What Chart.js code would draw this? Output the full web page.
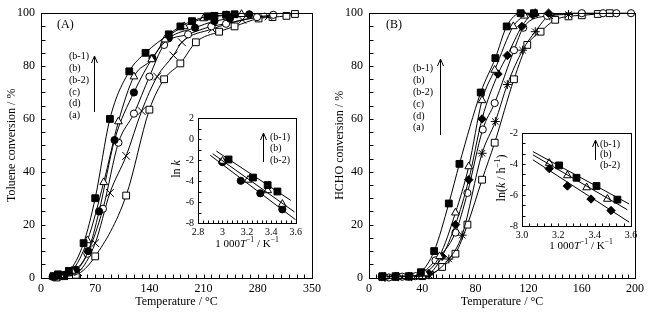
<!DOCTYPE html>
<html lang="en">
<head>
<meta charset="UTF-8">
<title>Toluene and HCHO conversion</title>
<script src="https://cdn.jsdelivr.net/npm/chart.js"></script>
<style>
  body { margin: 0; background: #fff; }
  #wrap { position: relative; width: 649px; height: 318px; overflow: hidden; background: #fff; }
  canvas { position: absolute; }
</style>
</head>
<body>
<div id="wrap">
  <canvas id="mainA" width="330" height="318" style="left:0;top:0"></canvas>
  <canvas id="mainB" width="324" height="318" style="left:325px;top:0"></canvas>
  <canvas id="insetA" width="140" height="145" style="left:165px;top:108px"></canvas>
  <canvas id="insetB" width="155" height="140" style="left:490px;top:123px"></canvas>
</div>

<script>
const seriesLabels = ['(b-1)', '(b)', '(b-2)', '(c)', '(d)', '(a)'];
const insetLabels = ['(b-1)', '(b)', '(b-2)'];

// (A) toluene conversion, [temperature °C, conversion %]
const tolB1 = [[16,0.5],[22,1.2],[36,2.5],[55,13],[70,30],[89,60],[114,78],[135,85],[165,92],[180,95],[195,97],[215,98.8],[224,99],[239,99.4],[250,99.6]];
const tolB  = [[15,0.3],[25,0.8],[40,2.5],[60,14],[81,36],[100,59],[120,76],[143,82.5],[160,90],[185,95],[210,98],[240,99.2],[259,99.6]];
const tolB2 = [[15,0.3],[30,1],[45,3],[61,10],[75,25],[95,52],[120,70],[144,83],[165,90.5],[199,94.5],[224,97],[244,98],[269,99.6]];
const tolC  = [[18,0.2],[30,0.8],[45,2.5],[60,9],[80,26],[100,51],[120,62],[140,76],[159,88],[190,92],[220,95],[239,96],[279,98.5],[300,99.4]];
const tolD  = [[20,0.2],[30,0.5],[48,2],[70,13],[89,32],[110,46],[130,63],[150,76],[171,84],[182,89],[221,94],[260,97.5],[294,98.8]];
const tolA  = [[20,0],[30,0.5],[45,1],[70,8],[110,31],[140,63.5],[159,75],[180,81],[200,89],[230,93],[250,95],[281,98],[299,98.5],[317,99],[328,99.7]];

// (B) HCHO conversion, [temperature °C, conversion %]
const hchoB1 = [[10,0.5],[20,0.5],[30,0.5],[39,2],[49,10],[60,28],[68,43],[84,70],[95,83],[103.5,95],[114,100],[124,100]];
const hchoB  = [[12,0.3],[22,0.3],[32,0.3],[42,1.5],[53,8],[65,24.5],[75,42],[85,67],[94.5,78.5],[108.5,95],[117,99],[125,100]];
const hchoB2 = [[10,0.3],[20,0.5],[30,0.5],[45,1.5],[55,8],[65,20],[75,37],[85,60],[97,77],[104,84],[115,95],[123,99.4],[135,100]];
const hchoC  = [[15,0],[25,0.3],[35,0.5],[50,6.5],[65,17],[74,32],[85.5,56],[94.5,66],[109,86],[116,94.5],[134,99],[160,100],[176,100],[186,100],[197,100]];
const hchoD  = [[12,0],[22,0.3],[32,0.3],[45,1],[60,7],[70,16],[85,47],[95,59],[104,73],[115.5,86],[125,93],[136,99],[150,99.5]];
const hchoA  = [[10,0.2],[20,0.2],[30,0.3],[40,0.5],[46,1],[55,4],[65,9],[74,20],[85,37],[94.5,51],[109,75],[119,88],[129,93],[140,97.5],[150,98.8],[160,99.2],[172,99.7],[181,100]];

// insets: [1000/T, ln k]
const lnkA_b1 = [[3.05,-1.95],[3.25,-3.67],[3.37,-4.39],[3.45,-5.0]];
const lnkA_b  = [[3.0,-2.1],[3.21,-3.9],[3.37,-4.9],[3.49,-6.2]];
const lnkA_b2 = [[3.0,-2.2],[3.15,-3.98],[3.31,-5.17],[3.49,-6.7]];
const fitA_b1 = [[2.95,-1.15],[3.56,-5.85]];
const fitA_b  = [[2.92,-1.4],[3.59,-6.95]];
const fitA_b2 = [[2.9,-1.55],[3.6,-7.7]];

const lnkB_b1 = [[3.204,-4.09],[3.30,-4.89],[3.41,-5.42],[3.525,-6.3]];
const lnkB_b  = [[3.15,-3.94],[3.25,-4.74],[3.356,-5.52],[3.47,-6.26]];
const lnkB_b2 = [[3.15,-4.3],[3.25,-5.42],[3.38,-6.26],[3.49,-7.0]];
const fitB_b1 = [[3.06,-3.2],[3.59,-6.58]];
const fitB_b  = [[3.06,-3.41],[3.58,-6.95]];
const fitB_b2 = [[3.06,-3.73],[3.59,-7.75]];

const FONT = "'Liberation Serif', 'Times New Roman', serif";
Chart.defaults.font.family = FONT;
Chart.defaults.color = '#000';

const marksA = [
    { style: 'rect', r: 4.8, fill: true },
    { style: 'triangle', r: 4.5, fill: false },
    { style: 'circle', r: 3.6, fill: true },
    { style: 'circle', r: 3.6, fill: false },
    { style: 'crossRot', r: 5.5, fill: false },
    { style: 'rect', r: 4.8, fill: false }
];
const marksB = [
    { style: 'rect', r: 4.8, fill: true },
    { style: 'triangle', r: 4.5, fill: false },
    { style: 'rectRot', r: 4.2, fill: true },
    { style: 'circle', r: 3.6, fill: false },
    { style: 'star', r: 4.5, fill: false },
    { style: 'rect', r: 4.8, fill: false }
];

function pts(arr) {
    return arr.map(p => ({ x: p[0], y: p[1] }));
}

function curve(arr, m) {
    return {
        data: pts(arr),
        borderColor: '#000',
        borderWidth: 1,
        cubicInterpolationMode: 'monotone',
        pointStyle: m.style,
        pointRadius: m.r,
        pointBorderWidth: 1,
        pointBorderColor: '#000',
        pointBackgroundColor: m.fill ? '#000' : '#fff',
        clip: false
    };
}

function fitLine(arr) {
    return { data: pts(arr), borderColor: '#000', borderWidth: 1, pointRadius: 0, tension: 0 };
}

function markers(arr, m) {
    return {
        data: pts(arr), showLine: false,
        pointStyle: m.style, pointRadius: m.r, pointBorderWidth: 1,
        pointBorderColor: '#000', pointBackgroundColor: m.fill ? '#000' : '#fff',
        clip: false
    };
}

// draw text made of plain / italic / superscript pieces
function richText(ctx, parts, cx, cy, size, rotate) {
    const fnt = (p) => (p.it ? 'italic ' : '') + (p.sup ? size * 0.7 : size) + 'px ' + FONT;
    let w = 0;
    parts.forEach(p => { ctx.font = fnt(p); w += ctx.measureText(p.t).width; });
    ctx.save();
    ctx.translate(cx, cy);
    if (rotate) ctx.rotate(-Math.PI / 2);
    ctx.textBaseline = 'middle';
    ctx.textAlign = 'left';
    let x = -w / 2;
    parts.forEach(p => {
        ctx.font = fnt(p);
        ctx.fillText(p.t, x, p.sup ? -size * 0.35 : 0);
        x += ctx.measureText(p.t).width;
    });
    ctx.restore();
}

// frame, inward ticks, notes and arrows
const decor = {
    id: 'decor',
    afterDraw(chart, args, o) {
        const { ctx, chartArea: a, scales: { x, y } } = chart;
        ctx.save();
        ctx.strokeStyle = '#000';
        ctx.fillStyle = '#000';
        ctx.lineWidth = 1;
        const L = Math.round(a.left) + 0.5, R = Math.round(a.right) + 0.5;
        const T = Math.round(a.top) + 0.5, B = Math.round(a.bottom) + 0.5;
        ctx.strokeRect(L, T, R - L, B - T);
        ctx.beginPath();
        const nx = Math.round((x.max - x.min) / o.xStep);
        for (let i = 1; i < nx; i++) {
            const px = Math.round(x.getPixelForValue(x.min + i * o.xStep)) + 0.5;
            ctx.moveTo(px, B); ctx.lineTo(px, B - o.len);
        }
        const ny = Math.round((y.max - y.min) / o.yStep);
        for (let i = 1; i < ny; i++) {
            const py = Math.round(y.getPixelForValue(y.min + i * o.yStep)) + 0.5;
            ctx.moveTo(L, py); ctx.lineTo(L + o.len, py);
        }
        ctx.stroke();

        (o.arrows || []).forEach(ar => {
            ctx.beginPath();
            ctx.moveTo(ar.x + 0.5, ar.y1); ctx.lineTo(ar.x + 0.5, ar.y2);
            ctx.moveTo(ar.x - 3 + 0.5, ar.y2 + 7); ctx.lineTo(ar.x + 0.5, ar.y2); ctx.lineTo(ar.x + 3.5, ar.y2 + 7);
            ctx.stroke();
        });
        ctx.textBaseline = 'middle';
        ctx.textAlign = 'left';
        (o.texts || []).forEach(t => {
            ctx.font = t.size + 'px ' + FONT;
            ctx.fillText(t.t, t.x, t.y);
        });
        (o.rich || []).forEach(r => richText(ctx, r.parts, r.x, r.y, r.size, r.rotate));
        ctx.restore();
    }
};

function legendTexts(x, y0, dy, size, labels) {
    return labels.map((t, i) => ({ t, x, y: y0 + i * dy, size }));
}

function mainChart(id, sets, marks, opt) {
    return new Chart(document.getElementById(id), {
        type: 'line',
        data: { datasets: sets.map((s, i) => curve(s, marks[i])) },
        options: {
            responsive: false, animation: false, events: [],
            layout: { padding: { top: 10, right: opt.padRight, left: 0, bottom: 0 } },
            plugins: { legend: { display: false }, tooltip: { enabled: false }, decor: opt.decor },
            scales: {
                x: {
                    type: 'linear', min: 0, max: opt.xMax,
                    ticks: { stepSize: opt.xMajor, font: { size: 12 }, padding: 4, maxRotation: 0, autoSkip: false },
                    grid: { display: false, drawTicks: false }, border: { display: false },
                    title: { display: true, text: 'Temperature / °C', font: { size: 12 }, padding: { top: 0, bottom: 9 } },
                    afterFit: s => { s.height = 40.5; }
                },
                y: {
                    type: 'linear', min: 0, max: 100,
                    ticks: { stepSize: 20, font: { size: 12 }, padding: 6 },
                    grid: { display: false, drawTicks: false }, border: { display: false },
                    title: { display: true, text: opt.yTitle, font: { size: 12 }, padding: { top: opt.titlePad, bottom: 0 } },
                    afterFit: s => { s.width = opt.yWidth; }
                }
            }
        },
        plugins: [decor]
    });
}

function insetChart(id, pointSets, fits, marks, opt) {
    const ds = [];
    fits.forEach(f => ds.push(fitLine(f)));
    pointSets.forEach((p, i) => ds.push(markers(p, marks[i])));
    return new Chart(document.getElementById(id), {
        type: 'line',
        data: { datasets: ds },
        options: {
            responsive: false, animation: false, events: [],
            layout: { padding: { top: 8, right: opt.padRight, left: 0, bottom: 0 } },
            plugins: { legend: { display: false }, tooltip: { enabled: false }, decor: opt.decor },
            scales: {
                x: {
                    type: 'linear', min: opt.xMin, max: 3.6,
                    ticks: { stepSize: 0.2, font: { size: 10 }, padding: 3, maxRotation: 0, autoSkip: false, callback: opt.xFmt },
                    grid: { display: false, drawTicks: false }, border: { display: false },
                    afterFit: s => { s.height = opt.xHeight; }
                },
                y: {
                    type: 'linear', min: opt.yMin, max: opt.yMax,
                    ticks: { stepSize: 2, font: { size: 10 }, padding: 4 },
                    grid: { display: false, drawTicks: false }, border: { display: false },
                    afterFit: s => { s.width = opt.yWidth; }
                }
            }
        },
        plugins: [decor]
    });
}

const invT = [{ t: '1 000' }, { t: 'T', it: true }, { t: '\u22121', sup: true }, { t: ' / K' }, { t: '\u22121', sup: true }];

mainChart('mainA', [tolB1, tolB, tolB2, tolC, tolD, tolA], marksA, {
    xMax: 350, xMajor: 70, padRight: 18, yWidth: 41, titlePad: 5,
    yTitle: 'Toluene conversion / %',
    decor: {
        xStep: 10, yStep: 5, len: 4,
        texts: [{ t: '(A)', x: 57, y: 25, size: 12 }].concat(legendTexts(69, 56.5, 11.8, 10, seriesLabels)),
        arrows: [{ x: 94, y1: 112, y2: 56 }]
    }
});

mainChart('mainB', [hchoB1, hchoB, hchoB2, hchoC, hchoD, hchoA], marksB, {
    xMax: 200, xMajor: 40, padRight: 14, yWidth: 44, titlePad: 8,
    yTitle: 'HCHO conversion / %',
    decor: {
        xStep: 5, yStep: 5, len: 4,
        texts: [{ t: '(B)', x: 61, y: 25, size: 12 }].concat(legendTexts(88, 68.3, 11.9, 10, seriesLabels)),
        arrows: [{ x: 115, y1: 135, y2: 59 }]
    }
});

insetChart('insetA', [lnkA_b1, lnkA_b, lnkA_b2], [fitA_b1, fitA_b, fitA_b2], marksA, {
    xMin: 2.8, yMin: -8, yMax: 2, padRight: 9, xHeight: 30, yWidth: 33,
    xFmt: v => String(Math.round(v * 10) / 10),
    decor: {
        xStep: 0.04, yStep: 1, len: 3,
        texts: legendTexts(105, 29, 11.7, 10, insetLabels),
        arrows: [{ x: 98, y1: 54, y2: 25 }],
        rich: [
            { parts: invT, x: 82, y: 136, size: 11 },
            { parts: [{ t: 'ln ' }, { t: 'k', it: true }], x: 12, y: 61, size: 12, rotate: true }
        ]
    }
});

insetChart('insetB', [lnkB_b1, lnkB_b, lnkB_b2], [fitB_b1, fitB_b, fitB_b2], marksB, {
    xMin: 3.0, yMin: -8, yMax: -2, padRight: 14, xHeight: 37, yWidth: 32,
    xFmt: v => v.toFixed(1),
    decor: {
        xStep: 0.04, yStep: 2 / 3, len: 3,
        texts: legendTexts(110, 21, 10.5, 10, insetLabels),
        arrows: [{ x: 105, y1: 37, y2: 17 }],
        rich: [
            { parts: invT, x: 91, y: 123, size: 11 },
            { parts: [{ t: 'ln(' }, { t: 'k', it: true }, { t: ' / h' }, { t: '\u22121', sup: true }, { t: ')' }], x: 12, y: 55, size: 12, rotate: true }
        ]
    }
});
</script>
</body>
</html>
